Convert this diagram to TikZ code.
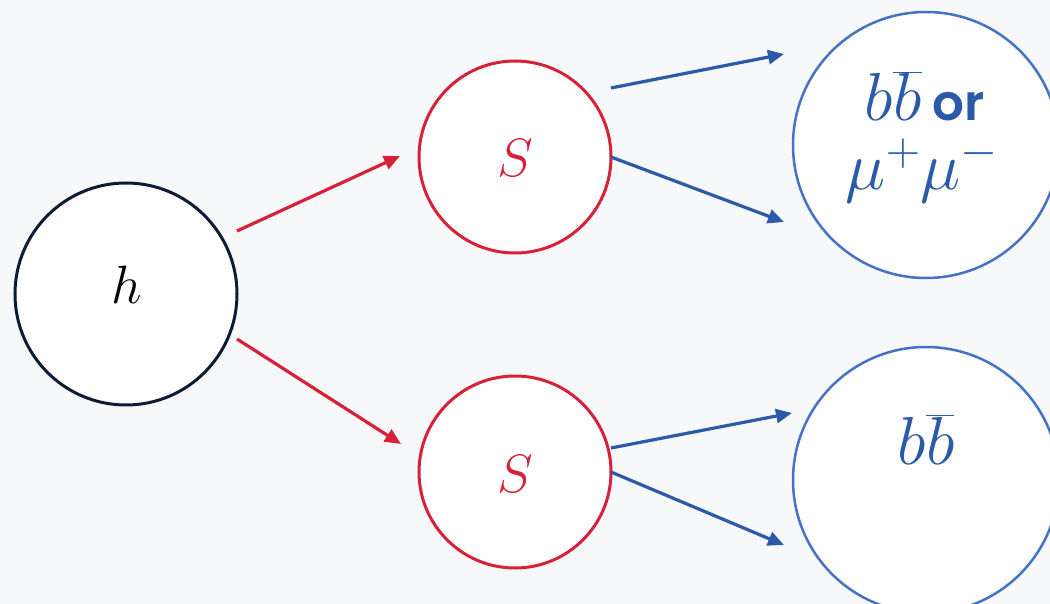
\RequirePackage{fix-cm}
\documentclass[tikz,border=0pt]{standalone}
\usepackage{fontspec}
\newfontfamily\orfont{Poppins}[UprightFont=* SemiBold]
\usetikzlibrary{arrows.meta}
\definecolor{bg}{HTML}{F6F8FA}
\definecolor{navy}{HTML}{0D1B35}
\definecolor{hred}{HTML}{D62138}
\definecolor{ringblue}{HTML}{4472C4}
\definecolor{tblue}{HTML}{2B5BA8}
\tikzset{
  ball/.style={circle, fill=white, inner sep=0pt, line width=3pt},
  redarrow/.style={draw=hred, line width=3.2pt, -{Triangle[length=16pt,width=14pt]}},
  bluearrow/.style={draw=tblue, line width=3.2pt, -{Triangle[length=16pt,width=14pt]}},
  big/.style={font=\fontsize{54}{60}\selectfont, inner sep=0pt, anchor=base},
  bigger/.style={font=\fontsize{68}{70}\selectfont, text=tblue, inner sep=0pt, anchor=base}
}
\begin{document}
\begin{tikzpicture}[x=1pt,y=-1pt]
\fill[bg] (0,0) rectangle (1050,604);
\useasboundingbox (0,0) rectangle (1050,604);
% circles
\node[ball, draw=navy, minimum size=222pt] (h) at (126,294) {};
\node[ball, draw=hred, minimum size=192pt] (s1) at (515,157) {};
\node[ball, draw=hred, minimum size=192pt] (s2) at (515,472) {};
\node[ball, draw=ringblue, line width=2.5pt, minimum size=266pt] (f1) at (926,145) {};
\node[ball, draw=ringblue, line width=2.5pt, minimum size=266pt] (f2) at (926,480) {};
% labels
\node[big] (lh) at (127,303) {$h$};
\node[big, text=hred] (ls1) at (515,177) {$S$};
\node[big, text=hred] (ls2) at (515,492) {$S$};
\node[bigger] (l1) at (925,121) {$b\overline{b}$\,{\orfont\fontsize{50}{50}\selectfont or}};
\node[bigger] (l2) at (922,190) {$\mu^{+}\mu^{-}$};
\node[bigger] (l3) at (926,464) {$b\overline{b}$};
% arrow end points
\coordinate (a1s) at (237,231); \coordinate (a1e) at (400,156);
\coordinate (a2s) at (237,339); \coordinate (a2e) at (401,444);
\coordinate (b1s) at (611,88);  \coordinate (b1e) at (784,54);
\coordinate (b2s) at (611,157); \coordinate (b2e) at (784,222);
\coordinate (b3s) at (611,448); \coordinate (b3e) at (792,413);
\coordinate (b4s) at (611,472); \coordinate (b4e) at (784,545);
\draw[redarrow] (a1s) -- (a1e);
\draw[redarrow] (a2s) -- (a2e);
\draw[bluearrow] (b1s) -- (b1e);
\draw[bluearrow] (b2s) -- (b2e);
\draw[bluearrow] (b3s) -- (b3e);
\draw[bluearrow] (b4s) -- (b4e);
\end{tikzpicture}
\end{document}
